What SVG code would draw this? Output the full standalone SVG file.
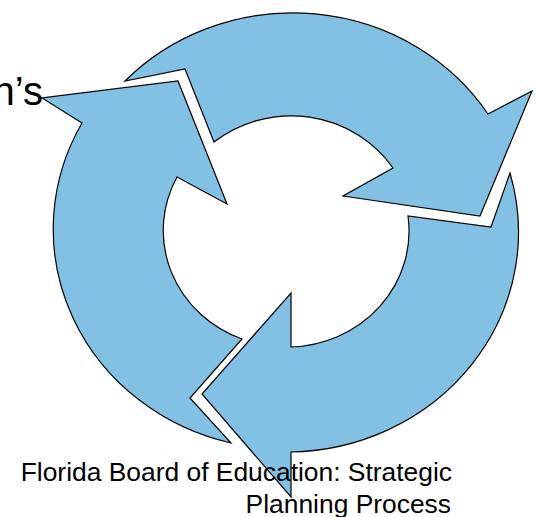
<svg xmlns="http://www.w3.org/2000/svg" width="537" height="517" viewBox="0 0 537 517">
<style>
.arrow{fill:#82C1E4;stroke:#000;stroke-width:1.2;stroke-linejoin:miter}
.t{font-family:"Liberation Sans",Arial,sans-serif;fill:#000}
</style>
<rect width="537" height="517" fill="#fff"/>
<g id="arrow-top">
<path class="arrow" d="M125,81 A232,220 0 0,1 488,114 L532,91 L480,216 L343,196 L393,168 A122,116 0 0,0 214,142 L185,69 Z"/>
</g>
<g id="arrow-right">
<path class="arrow" d="M510,173 A232,220 0 0,1 291,452 L291,497 L202,394 L291,293 L291,347 A122,116 0 0,0 408,216 L491,227 Z"/>
</g>
<g id="arrow-left">
<path class="arrow" d="M231,443 A232,220 0 0,1 82,123 L42,98 L178,81 L227,204 L177,177 A122,116 0 0,0 242,339 L190,398 Z"/>
</g>
<g id="connectors"></g>
<g id="labels">
<text class="t" x="43" y="105" font-size="40" text-anchor="end">n’s</text>
<text class="t" font-size="26.4" text-anchor="end"><tspan x="452" y="481">Florida Board of Education: Strategic</tspan><tspan x="451" y="512.5">Planning Process</tspan></text>
</g>
</svg>
